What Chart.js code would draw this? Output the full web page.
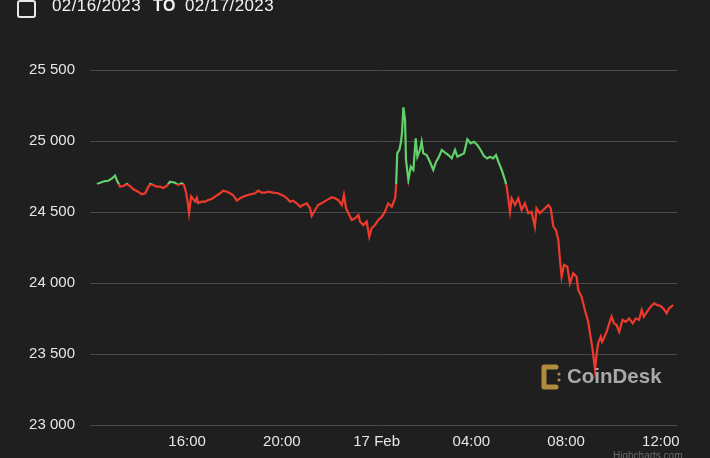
<!DOCTYPE html>
<html>
<head>
<meta charset="utf-8">
<script src="https://cdn.jsdelivr.net/npm/chart.js@4.4.0/dist/chart.umd.min.js"></script>
<style>
  html, body { margin: 0; padding: 0; background: #1f1f1f; }
  #wrap { position: relative; width: 710px; height: 458px; overflow: hidden; }
  #chart { position: absolute; left: 0; top: 0; }
  .hdr { position: absolute; top: -4px; color: #f2f2f2; font-family: "Liberation Sans", Arial, sans-serif; font-size: 17px; letter-spacing: 0.4px; }
  #box { position: absolute; left: 17px; top: 0px; width: 15px; height: 14px; border: 2px solid #e8e8e8; border-radius: 3px; }
  #logo { position: absolute; left: 541px; top: 364px; }
  #logoText { position: absolute; left: 567px; top: 364px; color: #a9a9a9; font-family: "Liberation Sans", Arial, sans-serif; font-weight: bold; font-size: 20.5px; }
  #credit { position: absolute; left: 613px; top: 450px; color: #6a6a6a; font-family: "Liberation Sans", Arial, sans-serif; font-size: 10px; }
</style>
</head>
<body>
<div id="wrap">
  <canvas id="chart" width="710" height="458"></canvas>
  <div id="box"></div>
  <div class="hdr" style="left:52px">02/16/2023</div>
  <div class="hdr" style="left:153px;font-weight:bold;font-size:16px;top:-3px">TO</div>
  <div class="hdr" style="left:185px">02/17/2023</div>
  <svg id="logo" width="22" height="26" viewBox="0 0 22 26">
    <path d="M3 3 H15 M3 3 V23 H15" stroke="#b08d3c" stroke-width="5" fill="none" stroke-linecap="round" stroke-linejoin="round"/>
    <circle cx="18" cy="10" r="1.6" fill="#b08d3c"/>
    <circle cx="18" cy="16" r="1.6" fill="#b08d3c"/>
  </svg>
  <div id="logoText">CoinDesk</div>
  <div id="credit">Highcharts.com</div>
</div>
<script>
// hours since 00:00 on 16 Feb (24 = 17 Feb 00:00)
const times = [
  12.19, 12.33, 12.54, 12.67, 12.82, 12.96, 13.03, 13.17, 13.30, 13.46,
  13.59, 13.72, 13.93, 14.09, 14.23, 14.35, 14.44, 14.57, 14.72, 14.86,
  14.99, 15.14, 15.28, 15.49, 15.62, 15.78, 15.87, 15.96, 16.03, 16.08,
  16.17, 16.34, 16.41, 16.46, 16.62, 16.76, 16.89, 17.04, 17.18, 17.39,
  17.52, 17.68, 17.81, 17.94, 18.10, 18.24, 18.36, 18.57, 18.73, 18.87,
  19.00, 19.15, 19.29, 19.42, 19.63, 19.84, 20.08, 20.21, 20.35, 20.47,
  20.63, 20.77, 20.89, 21.05, 21.19, 21.26, 21.40, 21.53, 21.68, 21.82,
  21.95, 22.11, 22.24, 22.37, 22.53, 22.62, 22.71, 22.81, 22.95, 23.09,
  23.23, 23.30, 23.44, 23.58, 23.69, 23.79, 23.93, 24.07, 24.22, 24.35,
  24.49, 24.64, 24.78, 24.82, 24.87, 24.96, 25.02, 25.07, 25.13, 25.20,
  25.24, 25.34, 25.44, 25.55, 25.65, 25.72, 25.83, 25.90, 25.97, 26.11,
  26.25, 26.39, 26.51, 26.60, 26.75, 26.89, 27.03, 27.17, 27.31, 27.41,
  27.55, 27.69, 27.83, 27.97, 28.11, 28.25, 28.39, 28.53, 28.67, 28.78,
  28.92, 29.04, 29.14, 29.28, 29.42, 29.49, 29.63, 29.70, 29.84, 29.98,
  30.12, 30.26, 30.40, 30.54, 30.68, 30.75, 30.89, 31.11, 31.25, 31.35,
  31.46, 31.57, 31.67, 31.74, 31.81, 31.91, 32.05, 32.16, 32.30, 32.44,
  32.51, 32.65, 32.79, 32.93, 33.03, 33.12, 33.22, 33.29, 33.35, 33.46,
  33.52, 33.59, 33.71, 33.82, 33.92, 34.02, 34.13, 34.24, 34.38, 34.52,
  34.66, 34.81, 34.95, 35.08, 35.19, 35.28, 35.42, 35.57, 35.71, 35.84,
  35.99, 36.13, 36.24, 36.35, 36.52
];
const prices = [
  24697, 24706, 24718, 24720, 24735, 24756, 24725, 24678, 24683, 24697,
  24683, 24662, 24643, 24625, 24632, 24674, 24697, 24690, 24678, 24678,
  24669, 24683, 24713, 24706, 24690, 24702, 24690, 24634, 24563, 24493,
  24610, 24573, 24599, 24563, 24573, 24573, 24585, 24592, 24608, 24632,
  24650, 24643, 24632, 24620, 24580, 24597, 24608, 24620, 24627, 24632,
  24650, 24636, 24636, 24643, 24636, 24632, 24613, 24597, 24573, 24580,
  24561, 24537, 24549, 24561, 24526, 24472, 24514, 24549, 24561, 24577,
  24589, 24604, 24597, 24585, 24549, 24620, 24526, 24491, 24444, 24456,
  24479, 24432, 24408, 24432, 24326, 24385, 24408, 24444, 24467, 24502,
  24561, 24537, 24597, 24678, 24913, 24937, 24984, 25054, 25237, 25148,
  24866, 24725, 24819, 24796, 25019, 24889, 24937, 24995, 24913, 24901,
  24854, 24796, 24854, 24878, 24937, 24918, 24901, 24878, 24937, 24889,
  24901, 24913, 25012, 24984, 24995, 24972, 24937, 24894, 24878, 24889,
  24878, 24901, 24854, 24796, 24725, 24678, 24502, 24597, 24549, 24597,
  24514, 24561, 24491, 24502, 24397, 24526, 24491, 24526, 24549, 24526,
  24397, 24373, 24303, 24162, 24044, 24127, 24115, 23998, 24068, 24044,
  23951, 23904, 23810, 23727, 23622, 23528, 23387, 23505, 23575, 23622,
  23587, 23611, 23657, 23716, 23763, 23716, 23704, 23657, 23740, 23727,
  23751, 23716, 23751, 23740, 23810, 23763, 23798, 23833, 23857, 23845,
  23838, 23815, 23787, 23822, 23845
];
const tickHours = [16, 20, 24, 28, 32, 36];
const tickLabels = ['16:00', '20:00', '17 Feb', '04:00', '08:00', '12:00'];

const openPrice = prices[0];
const GREEN = '#62d16a';
const RED = '#ee3a2b';
const FONT = '"Liberation Sans", Arial, sans-serif';

// green above the opening price, red below
function zoneColor(ctx) {
    const chart = ctx.chart;
    const area = chart.chartArea;
    if (!area) return RED;
    const yT = chart.scales.y.getPixelForValue(openPrice);
    let f = (yT - area.top) / (area.bottom - area.top);
    f = Math.min(1, Math.max(0, f));
    const g = chart.ctx.createLinearGradient(0, area.top, 0, area.bottom);
    g.addColorStop(0, GREEN);
    g.addColorStop(f, GREEN);
    g.addColorStop(f, RED);
    g.addColorStop(1, RED);
    return g;
}

new Chart(document.getElementById('chart'), {
    type: 'line',
    data: {
        datasets: [{
            data: times.map((t, i) => ({ x: t, y: prices[i] })),
            borderColor: zoneColor,
            borderWidth: 2.2,
            pointRadius: 0,
            tension: 0,
            fill: false
        }]
    },
    options: {
        responsive: false,
        animation: false,
        layout: { padding: { top: 70, right: 33, left: 0, bottom: 0 } },
        plugins: { legend: { display: false }, tooltip: { enabled: false } },
        scales: {
            x: {
                type: 'linear',
                min: 11.9,
                max: 36.68,
                afterBuildTicks: s => { s.ticks = tickHours.map(v => ({ value: v })); },
                afterFit: s => { s.height = 33; },
                grid: { display: false, drawTicks: false },
                border: { display: false },
                ticks: {
                    color: '#e6e6e6',
                    font: { family: FONT, size: 15 },
                    padding: 8,
                    maxRotation: 0,
                    callback: (v, i) => tickLabels[i]
                }
            },
            y: {
                min: 23000,
                max: 25500,
                afterFit: s => { s.width = 90; },
                grid: { color: '#4a4a4a', lineWidth: 1, drawTicks: false },
                border: { display: false },
                ticks: {
                    stepSize: 500,
                    color: '#e6e6e6',
                    font: { family: FONT, size: 15 },
                    padding: 15,
                    callback: v => String(v).replace(/\B(?=(\d{3})+(?!\d))/g, ' ')
                }
            }
        }
    }
});
</script>
</body>
</html>
